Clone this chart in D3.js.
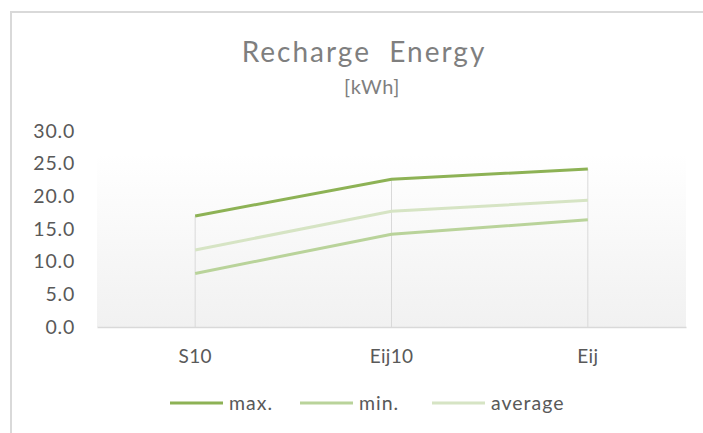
<!DOCTYPE html>
<html>
<head>
<meta charset="utf-8">
<script src="https://cdn.jsdelivr.net/npm/d3@7"></script>
<style>
  body { margin: 0; background: #fff; }
  svg { display: block; font-family: Lato, "Open Sans", sans-serif; }
</style>
</head>
<body>
<svg id="canvas" width="703" height="433"></svg>
<script>
const categories = ["S10", "Eij10", "Eij"];
const maxValues = [17.0, 22.6, 24.2];
const minValues = [8.2, 14.2, 16.4];
const avgValues = [11.8, 17.7, 19.4];
const yTicks = [0, 5, 10, 15, 20, 25, 30];
const seriesNames = ["max.", "min.", "average"];
const seriesColors = ["#8db255", "#b9d39a", "#d6e4c4"];

const series = [maxValues, minValues, avgValues].map((values, i) => ({
  name: seriesNames[i],
  color: seriesColors[i],
  values: values
}));

let canvas = d3.select("#canvas");

// chart frame (clipped at right and bottom like the source)
canvas.append("path")
  .attr("d", "M11,433 L11,12 L703,12")
  .attr("fill", "none")
  .attr("stroke", "#d9d9d9")
  .attr("stroke-width", 2);

const plot = { left: 97, right: 686, top: 154, bottom: 327 };

const x = d3.scaleBand()
  .domain(categories)
  .range([plot.left, plot.right]);

const y = d3.scaleLinear()
  .domain([0, 30])
  .range([327, 131]);

const defs = canvas.append("defs");
const grad = defs.append("linearGradient")
  .attr("id", "plotBg")
  .attr("x1", 0).attr("y1", 0).attr("x2", 0).attr("y2", 1);
grad.append("stop").attr("offset", "0%").attr("stop-color", "#ffffff");
grad.append("stop").attr("offset", "100%").attr("stop-color", "#f1f1f1");

canvas.append("rect")
  .attr("x", plot.left)
  .attr("y", plot.top)
  .attr("width", plot.right - plot.left)
  .attr("height", plot.bottom - plot.top)
  .attr("fill", "url(#plotBg)");

// title
canvas.append("text")
  .attr("x", 364)
  .attr("y", 62)
  .attr("text-anchor", "middle")
  .attr("fill", "#7f7f7f")
  .attr("font-size", 28)
  .attr("letter-spacing", 2)
  .style("white-space", "pre")
  .text("Recharge  Energy");

canvas.append("text")
  .attr("x", 372)
  .attr("y", 94)
  .attr("text-anchor", "middle")
  .attr("fill", "#7f7f7f")
  .attr("font-size", 20)
  .attr("letter-spacing", 0.6)
  .text("[kWh]");

// y axis labels
const yAxis = d3.axisLeft(y)
  .tickValues(yTicks)
  .tickFormat(d3.format(".1f"))
  .tickSize(0)
  .tickPadding(0);

const yAxisG = canvas.append("g")
  .attr("transform", "translate(75,0)")
  .call(yAxis);
yAxisG.select(".domain").remove();
yAxisG.selectAll("text")
  .attr("fill", "#595959")
  .attr("font-size", 19.5)
  .attr("letter-spacing", 0.8)
  .attr("font-family", "Lato, sans-serif");

// x axis
const xAxis = d3.axisBottom(x).tickSize(0).tickPadding(0);
const xAxisG = canvas.append("g")
  .attr("transform", "translate(0," + plot.bottom + ")")
  .call(xAxis);
xAxisG.select(".domain")
  .attr("stroke", "#d9d9d9")
  .attr("stroke-width", 1.5);
xAxisG.selectAll("text")
  .attr("y", 23)
  .attr("fill", "#595959")
  .attr("font-size", 19)
  .attr("letter-spacing", 0.3)
  .attr("font-family", "Lato, sans-serif");

const cx = (c) => x(c) + x.bandwidth() / 2;

// drop lines from highest point to axis
canvas.append("g")
  .selectAll("line")
  .data(categories)
  .enter()
  .append("line")
  .attr("x1", (c) => cx(c))
  .attr("x2", (c) => cx(c))
  .attr("y1", (c, i) => y(d3.max(series, (s) => s.values[i])))
  .attr("y2", y(0))
  .attr("stroke", "#d9d9d9")
  .attr("stroke-width", 1);

const line = d3.line()
  .x((d, i) => cx(categories[i]))
  .y((d) => y(d));

canvas.append("g")
  .selectAll("path")
  .data(series.slice().reverse())
  .enter()
  .append("path")
  .attr("d", (s) => line(s.values))
  .attr("fill", "none")
  .attr("stroke", (s) => s.color)
  .attr("stroke-width", 3);

// legend
const legendX = [170, 300, 432];
const legend = canvas.append("g")
  .selectAll("g")
  .data(series)
  .enter()
  .append("g")
  .attr("transform", (s, i) => "translate(" + legendX[i] + ",403)");

legend.append("line")
  .attr("x1", 0)
  .attr("x2", 53)
  .attr("stroke", (s) => s.color)
  .attr("stroke-width", 3);

legend.append("text")
  .attr("x", 59)
  .attr("y", 6.5)
  .attr("fill", "#595959")
  .attr("font-size", 19.5)
  .attr("letter-spacing", 1)
  .text((s) => s.name);
</script>
</body>
</html>
